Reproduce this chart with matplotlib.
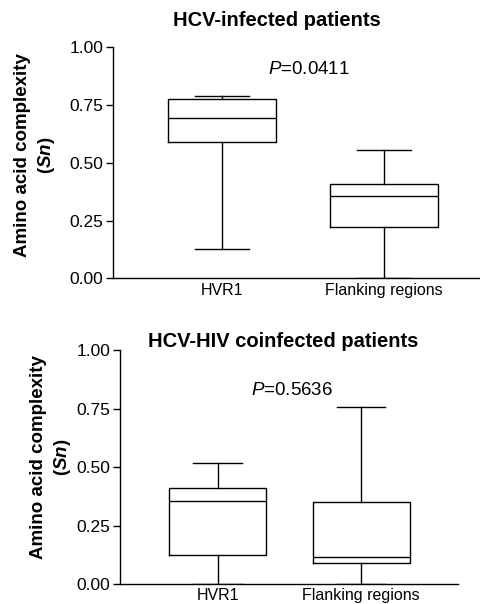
import matplotlib
matplotlib.use("Agg")
import matplotlib.pyplot as plt

plt.rcParams['font.family'] = ['Liberation Sans', 'DejaVu Sans']
plt.rcParams['mathtext.fontset'] = 'custom'
plt.rcParams['mathtext.it'] = 'Liberation Sans:italic'
plt.rcParams['mathtext.bfit'] = 'Liberation Sans:italic:bold'
plt.rcParams['mathtext.rm'] = 'Liberation Sans'

groups = ['HVR1', 'Flanking regions']

# min, Q1, median, Q3, max
hcv_min = [0.125, 0.0]
hcv_q1 = [0.588, 0.222]
hcv_med = [0.691, 0.354]
hcv_q3 = [0.774, 0.409]
hcv_max = [0.789, 0.555]

hiv_min = [0.0, 0.0]
hiv_q1 = [0.124, 0.091]
hiv_med = [0.356, 0.117]
hiv_q3 = [0.409, 0.352]
hiv_max = [0.519, 0.758]

titles = ['HCV-infected patients', 'HCV-HIV coinfected patients']
pvals = ['0.0411', '0.5636']


def make_stats(mins, q1s, meds, q3s, maxs):
    out = []
    for lo, a, m, b, hi in zip(mins, q1s, meds, q3s, maxs):
        out.append(dict(whislo=lo, q1=a, med=m, q3=b, whishi=hi, fliers=[]))
    return out


fig = plt.figure(figsize=(4.81, 6.04), dpi=100)
ax1 = fig.add_axes([0.235, 0.539, 0.765, 0.3834])
ax2 = fig.add_axes([0.2495, 0.0331, 0.703, 0.3874])

# axes, stats, xlim, box width, P position, title position (px), ylabel coords
panels = [
    (ax1, make_stats(hcv_min, hcv_q1, hcv_med, hcv_q3, hcv_max), (0.327, 2.6), 0.667,
     (1.537, 0.904), (277, 21), (-0.152, 0.532)),
    (ax2, make_stats(hiv_min, hiv_q1, hiv_med, hiv_q3, hiv_max), (0.32, 2.676), 0.676,
     (1.52, 0.829), (283, 341), (-0.138, 0.543)),
]

for i, (ax, stats, xl, w, ppos, tpos, lpos) in enumerate(panels):
    lp = dict(color='black', linewidth=1.0)
    ax.bxp(stats, positions=[1, 2], widths=w, showfliers=False,
           boxprops=lp, whiskerprops=lp, capprops=lp,
           medianprops=lp)
    ax.set_xlim(*xl)
    ax.set_ylim(0, 1.0)
    ax.set_yticks([0, 0.25, 0.5, 0.75, 1.0])
    ax.set_yticklabels(['0.00', '0.25', '0.50', '0.75', '1.00'])
    ax.set_xticks([1, 2])
    ax.set_xticklabels(groups)
    ax.spines['top'].set_visible(False)
    ax.spines['right'].set_visible(False)
    ax.spines['left'].set_linewidth(1.0)
    ax.spines['bottom'].set_linewidth(1.0)
    ax.tick_params(axis='y', length=5, width=1.0, labelsize=12.5, pad=2, colors='black')
    ax.tick_params(axis='x', length=0, labelsize=11.5, pad=3)
    fig.text(tpos[0] / 481, 1 - tpos[1] / 604, titles[i], fontsize=14.5,
             fontweight='bold', ha='center', va='center')
    ax.set_ylabel('Amino acid complexity\n($\\mathbfit{Sn}$)', fontsize=13.5,
                  fontweight='bold', linespacing=1.35)
    ax.yaxis.set_label_coords(lpos[0], lpos[1])
    ax.text(ppos[0], ppos[1], '$\\mathit{P}$=' + pvals[i], fontsize=13.5,
            ha='center', va='center')

fig.savefig('out.png', dpi=100)
